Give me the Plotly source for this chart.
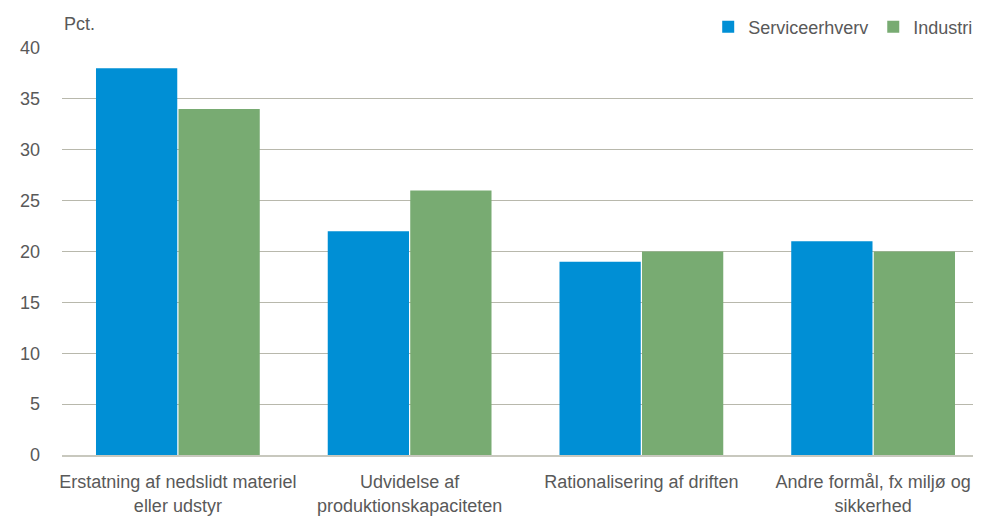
import plotly.graph_objects as go

categories = ["Erstatning af nedslidt materiel<br>eller udstyr",
              "Udvidelse af<br>produktionskapaciteten",
              "Rationalisering af driften",
              "Andre formål, fx miljø og<br>sikkerhed"]
service = [38, 22, 19, 21]
industri = [34, 26, 20, 20]

FONT = "Liberation Sans, Arial, sans-serif"
TXT = "#595959"

fig = go.Figure()
fig.add_trace(go.Bar(x=categories, y=service, name="Serviceerhverv",
                     marker=dict(color="#008FD5", line=dict(width=0))))
fig.add_trace(go.Bar(x=categories, y=industri, name="Industri",
                     marker=dict(color="#78AB72", line=dict(width=0))))

fig.update_layout(
    width=981, height=514,
    margin=dict(l=54, r=0, t=40, b=67, autoexpand=False),
    paper_bgcolor="white", plot_bgcolor="white",
    barmode="group", bargap=0.288, bargroupgap=0.015,
    font=dict(family=FONT, size=18, color=TXT),
    legend=dict(orientation="h", xref="container", yref="container",
                x=0.989, xanchor="right", y=0.963, yanchor="middle",
                font=dict(size=18, color=TXT), itemwidth=30, traceorder="normal",
                bgcolor="rgba(0,0,0,0)"),
    xaxis=dict(showgrid=False, showline=True, linecolor="#C8C8BE", linewidth=1.5,
               ticks="", ticklabelstandoff=10, tickfont=dict(size=18, color=TXT)),
    yaxis=dict(range=[0, 40], dtick=5, showgrid=True, gridcolor="#B8B8AC",
               gridwidth=1, zeroline=False, showline=False, ticks="",
               ticklabelstandoff=21,
               tickfont=dict(size=18, color=TXT)),
    annotations=[dict(text="Pct.", xref="paper", yref="paper", x=0, y=1,
                      yshift=12, xanchor="left", yanchor="bottom", showarrow=False,
                      font=dict(size=18, color=TXT))],
)

fig.write_html("out.html")
